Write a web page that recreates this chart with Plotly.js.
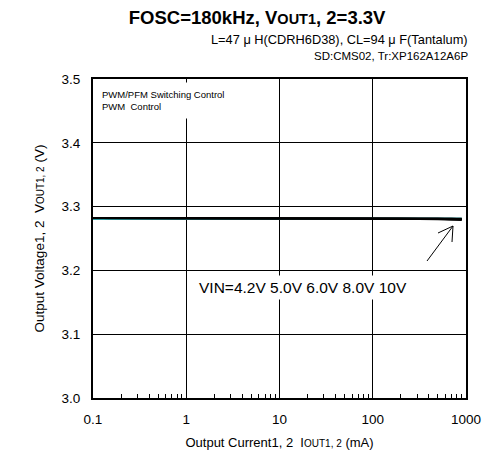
<!DOCTYPE html>
<html>
<head>
<meta charset="utf-8">
<script src="https://cdn.plot.ly/plotly-3.0.1.min.js"></script>
<style>html,body{margin:0;padding:0;background:#fff;}#chart{width:487px;height:461px;}</style>
</head>
<body>
<div id="chart"></div>
<script>
// Output current (mA)
const currents = [0.1, 0.2, 0.5, 1, 2, 5, 10, 20, 50, 100, 200, 500, 700, 900];
// Output voltage (V) for each input voltage
const vin42 = [3.282, 3.282, 3.282, 3.282, 3.282, 3.282, 3.282, 3.282, 3.282, 3.282, 3.281, 3.280, 3.280, 3.279];
const vin50 = [3.282, 3.282, 3.282, 3.282, 3.282, 3.282, 3.282, 3.282, 3.282, 3.282, 3.281, 3.281, 3.280, 3.280];
const vin60 = [3.282, 3.282, 3.282, 3.282, 3.282, 3.282, 3.282, 3.282, 3.282, 3.282, 3.282, 3.281, 3.281, 3.280];
const vin80 = [3.282, 3.282, 3.282, 3.282, 3.282, 3.282, 3.282, 3.282, 3.282, 3.282, 3.282, 3.281, 3.281, 3.281];
const vin10 = [3.281, 3.281, 3.281, 3.281, 3.281, 3.281, 3.281, 3.281, 3.281, 3.281, 3.281, 3.281, 3.281, 3.281];
const seriesNames = ["VIN=10V", "VIN=8.0V", "VIN=6.0V", "VIN=5.0V", "VIN=4.2V"];
const seriesValues = [vin10, vin80, vin60, vin50, vin42];
const seriesColors = ["#2a9aa0", "#111111", "#000000", "#000000", "#000000"];
const xTickVals = [0.1, 1, 10, 100, 1000];
const xTickText = ["0.1", "1", "10", "100", "1000"];
const xMinorTickVals = [0.2, 0.3, 0.4, 0.5, 0.6, 0.7, 0.8, 0.9,
  2, 3, 4, 5, 6, 7, 8, 9,
  20, 30, 40, 50, 60, 70, 80, 90,
  200, 300, 400, 500, 600, 700, 800, 900];
const yTickVals = [3.0, 3.1, 3.2, 3.3, 3.4, 3.5];

const font = "Liberation Sans, Arial, sans-serif";
const traces = seriesValues.map((v, i) => ({
  x: currents, y: v, name: seriesNames[i], type: "scatter", mode: "lines",
  line: {color: seriesColors[i], width: i === 0 ? 2.5 : 2}
}));

// pixel -> paper helpers for decorations (plot area 93..466 x 79..398)
const px = p => (p - 93) / 373;
const py = p => (398 - p) / 319;

const layout = {
  width: 487, height: 461,
  margin: {l: 93, r: 21, t: 79, b: 63},
  paper_bgcolor: "#fff", plot_bgcolor: "#fff",
  showlegend: false,
  font: {family: font, color: "#000"},
  title: {
    text: "FOSC=180kHz, V<span style='font-size:14.5px'>OUT1</span>, 2=3.3V",
    font: {family: font, size: 18.5, color: "#000", weight: "bold"},
    xref: "container", x: 0.528, xanchor: "center",
    yref: "container", y: 1 - 18 / 461, yanchor: "middle"
  },
  xaxis: {
    type: "log", range: [-1, 3],
    tickvals: xTickVals, ticktext: xTickText,
    ticks: "", ticklabelstandoff: 8,
    tickfont: {size: 13.5, family: font},
    showgrid: true, gridcolor: "#000", gridwidth: 1,
    showline: true, linecolor: "#000", linewidth: 2, mirror: true,
    zeroline: false,
    minor: {tickmode: "array", tickvals: xMinorTickVals, ticks: "inside", ticklen: 4, tickcolor: "#000", tickwidth: 1, showgrid: false},
    title: {text: "Output Current1, 2  I<span style='font-size:10px'>OUT1, 2</span> (mA)", font: {size: 13, family: font}, standoff: 12}
  },
  yaxis: {
    range: [3.0, 3.5], tickvals: yTickVals, tickformat: ".1f",
    ticks: "", ticklabelstandoff: 8,
    tickfont: {size: 13.5, family: font},
    showgrid: true, gridcolor: "#000", gridwidth: 1,
    showline: true, linecolor: "#000", linewidth: 2, mirror: true,
    zeroline: false,
    title: {text: "Output Voltage1, 2  V<span style='font-size:10px'>OUT1, 2</span> (V)", font: {size: 13.5, family: font}, standoff: 14}
  },
  shapes: [
    {type: "path", xref: "paper", yref: "paper",
     path: `M ${px(427)} ${py(261)} L ${px(453)} ${py(226)} M ${px(438)} ${py(233)} L ${px(453)} ${py(226)} L ${px(452)} ${py(242)}`,
     line: {color: "#000", width: 1}}
  ],
  annotations: [
    {xref: "paper", yref: "paper", x: px(470), y: py(40), xanchor: "right", yanchor: "middle",
     text: "L=47 μ H(CDRH6D38), CL=94 μ F(Tantalum)", showarrow: false, font: {size: 12.8, family: font}},
    {xref: "paper", yref: "paper", x: px(470), y: py(56), xanchor: "right", yanchor: "middle",
     text: "SD:CMS02, Tr:XP162A12A6P", showarrow: false, font: {size: 11.5, family: font}},
    {xref: "paper", yref: "paper", x: 0.005, y: 0.99, xanchor: "left", yanchor: "top", align: "left",
     text: "PWM/PFM Switching Control<br>PWM  Control", showarrow: false, bgcolor: "#fff", borderpad: 6,
     font: {size: 9.5, family: font}},
    {xref: "paper", yref: "paper", x: px(303), y: py(287), xanchor: "center", yanchor: "middle",
     text: "VIN=4.2V 5.0V 6.0V 8.0V 10V", showarrow: false, bgcolor: "#fff", borderpad: 3,
     font: {size: 15.5, family: font}}
  ]
};

Plotly.newPlot("chart", traces, layout, {displayModeBar: false, staticPlot: true});
</script>
</body>
</html>
